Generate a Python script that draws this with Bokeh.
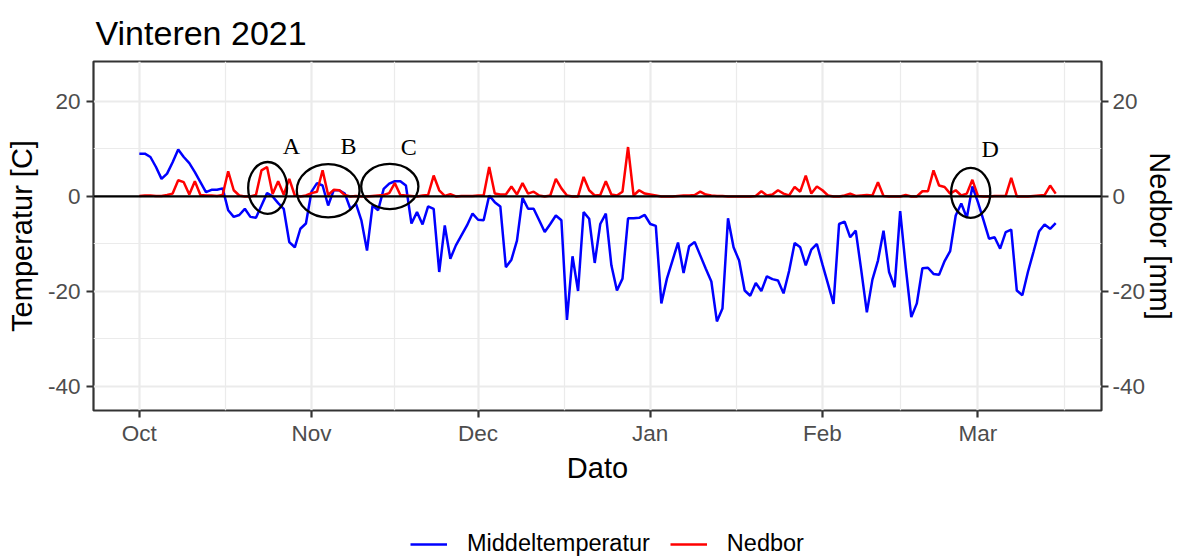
import pandas as pd
from bokeh.plotting import figure
from bokeh.layouts import column
from bokeh.models import (FixedTicker, DatetimeTickFormatter, LinearAxis, Span,
                          Legend, LegendItem, Range1d, PrintfTickFormatter)
from bokeh.core.properties import value
from bokeh.embed import file_html
from bokeh.resources import INLINE

# ---------------- data ----------------
start_date = "2020-10-01"
temp = [9.0, 9.0, 8.3, 6.2, 3.7, 4.8, 7.2, 9.9, 8.3, 7.0,
        5.1, 3.0, 0.9, 1.4, 1.4, 1.7, -2.9, -4.3, -3.9, -2.6,
        -4.3, -4.5, -1.9, 0.7, 0.0, -1.4, -2.6, -9.6, -10.7, -6.8,
        -5.7, 1.0, 2.8, 2.3, -1.9, 1.3, 1.3, 0.6, -2.6, -1.5,
        -5.1, -11.4, -1.9, -2.9, 1.6, 2.7, 3.2, 3.2, 2.3, -5.7,
        -3.3, -5.9, -2.1, -2.6, -15.9, -6.1, -13.1, -10.3, -8.2, -6.1,
        -3.6, -4.9, -5.0, 0.2, -1.2, -2.1, -14.9, -13.3, -9.3, -0.3,
        -2.6, -2.6, -5.0, -7.5, -5.8, -4.0, -5.0, -26.0, -12.6, -19.9,
        -3.3, -4.7, -14.0, -5.8, -3.6, -14.5, -19.8, -17.3, -4.6, -4.6,
        -4.5, -3.9, -5.8, -6.2, -22.5, -17.3, -13.5, -9.7, -16.1, -10.5,
        -9.6, -12.4, -15.2, -17.9, -26.3, -23.6, -4.6, -10.7, -13.5, -19.8,
        -20.9, -18.2, -19.9, -16.8, -17.4, -17.7, -20.4, -15.7, -9.8, -10.7,
        -14.5, -11.2, -10.0, -14.3, -18.4, -22.6, -5.8, -5.3, -8.6, -7.2,
        -15.6, -24.4, -17.5, -13.5, -7.2, -15.9, -19.1, -3.1, -14.9, -25.4,
        -22.5, -15.1, -15.0, -16.3, -16.5, -13.6, -11.5, -4.0, -1.5, -4.5,
        2.1, -1.2, -5.0, -8.9, -8.6, -11.0, -7.5, -7.0, -19.8, -20.8,
        -15.9, -11.7, -7.4, -5.9, -6.8, -5.6]
precip = [0.1, 0.2, 0.2, 0.1, 0.1, 0.3, 0.6, 3.4, 3.0, 0.4,
          3.2, 0.3, 0.2, 0.2, 0.1, 0.3, 5.3, 1.3, 0.2, 0.0,
          0.0, 0.3, 5.5, 6.2, 0.5, 3.2, 0.4, 3.7, 0.2, 0.0,
          0.2, 0.7, 1.0, 5.5, 0.3, 1.4, 1.3, 0.3, 0.0, 0.1,
          0.0, 0.0, 0.1, 0.2, 0.3, 0.7, 2.8, 0.3, 0.2, 0.1,
          0.0, 0.2, 0.3, 4.4, 1.3, 0.1, 0.5, 0.0, 0.1, 0.1,
          0.1, 0.2, 0.2, 6.2, 0.6, 0.4, 0.4, 2.1, 0.4, 2.8,
          0.6, 1.0, 0.2, 0.0, 0.2, 3.7, 1.7, 0.2, 0.0, 0.0,
          4.1, 1.3, 0.2, 0.3, 3.2, 0.4, 0.2, 1.0, 10.4, 0.2,
          1.3, 0.6, 0.4, 0.2, 0.0, 0.0, 0.0, 0.1, 0.2, 0.2,
          0.3, 1.0, 0.4, 0.2, 0.1, 0.1, 0.0, 0.0, 0.0, 0.0,
          0.0, 0.1, 1.1, 0.2, 0.4, 1.3, 0.6, 0.2, 2.0, 1.0,
          4.4, 0.6, 2.1, 1.3, 0.2, 0.0, 0.0, 0.2, 0.6, 0.1,
          0.2, 0.3, 0.2, 3.0, 0.1, 0.0, 0.0, 0.0, 0.3, 0.0,
          0.0, 1.1, 1.1, 5.5, 2.3, 2.0, 0.6, 1.3, 0.2, 0.6,
          3.5, 0.1, 0.0, 0.0, 0.1, 0.1, 0.1, 3.9, 0.0, 0.0,
          0.0, 0.1, 0.2, 0.3, 2.3, 0.6]

series_names = ["Middeltemperatur", "Nedbor"]
series_colors = ["#0000FF", "#FF0000"]

month_starts = ["2020-10-01", "2020-11-01", "2020-12-01", "2021-01-01",
                "2021-02-01", "2021-03-01", "2021-04-01"]
y_ticks = [-40, -20, 0, 20]
y_minor = [-30, -10, 10]

# annotation ellipses (day offset from start, y, width in days, height)
ell_day = [23.1, 34.0, 45.1, 149.7]
ell_y = [1.8, 1.2, 2.1, 0.75]
ell_w = [7.0, 11.3, 10.3, 7.05]
ell_h = [10.9, 11.2, 9.5, 10.5]
lab_text = ["A", "B", "C", "D"]
lab_day = [27.4, 37.65, 48.5, 153.2]
lab_y = [10.7, 10.6, 10.5, 10.0]

# ---------------- helpers ----------------
DAY = 86400000.0
t_start = pd.Timestamp(start_date)
dates = pd.date_range(t_start, periods=len(temp), freq="D")


def ms(ts):
    return pd.Timestamp(ts).value / 1e6


t0 = ms(t_start)
span_days = len(temp) - 1
pad = span_days * 0.05
x_range = Range1d(t0 - pad * DAY, t0 + (span_days + pad) * DAY)
y_range = Range1d(-45.05, 28.4)

major_x = [ms(d) for d in month_starts[:-1]]
all_m = [ms(d) for d in month_starts]
minor_x = [(a + b) / 2 for a, b in zip(all_m[:-1], all_m[1:])]

FONT = "Liberation Sans"
GRID = "#EBEBEB"
DARK = "#333333"
TICKC = "#4D4D4D"

p = figure(width=1180, height=497, x_axis_type="datetime",
           x_range=x_range, y_range=y_range,
           output_backend="svg", toolbar_location=None,
           min_border_left=93, min_border_right=79,
           min_border_top=61, min_border_bottom=87,
           background_fill_color="white", border_fill_color="white")
p.outline_line_color = DARK
p.outline_line_width = 2.2

# title
p.title.text = "Vinteren 2021"
p.title.text_font = FONT
p.title.text_font_size = "34px"
p.title.text_font_style = "normal"
p.title.text_color = "black"
p.title.align = "left"
p.title.offset = 2
p.title.standoff = 20

# x axis
xt = FixedTicker(ticks=major_x, minor_ticks=minor_x)
p.xaxis.ticker = xt
p.xaxis.formatter = DatetimeTickFormatter(
    milliseconds="%b", seconds="%b", minsec="%b", minutes="%b", hourmin="%b",
    hours="%b", days="%b", months="%b", years="%b")
p.xgrid.ticker = xt

yt = FixedTicker(ticks=y_ticks, minor_ticks=y_minor)
p.yaxis.ticker = yt
p.yaxis.formatter = PrintfTickFormatter(format="%d")
p.ygrid.ticker = yt

right = LinearAxis(ticker=yt, formatter=PrintfTickFormatter(format="%d"))
p.add_layout(right, "right")

for ax in [p.xaxis[0], p.yaxis[0], right]:
    ax.axis_line_color = None
    ax.major_tick_line_color = DARK
    ax.major_tick_line_width = 2.2
    ax.major_tick_out = 7
    ax.major_tick_in = 0
    ax.minor_tick_line_color = None
    ax.major_label_text_font = FONT
    ax.major_label_text_font_size = "22.5px"
    ax.major_label_text_color = TICKC
    ax.axis_label_text_font = FONT
    ax.axis_label_text_font_size = "29px"
    ax.axis_label_text_font_style = "normal"
    ax.axis_label_text_color = "black"

p.xaxis.axis_label = "Dato"
p.xaxis.major_label_standoff = 3
p.xaxis.axis_label_standoff = 3
p.yaxis[0].axis_label = "Temperatur [C]"
p.yaxis[0].major_label_standoff = 6
p.yaxis[0].axis_label_standoff = 7
right.axis_label = "Nedbor [mm]"
right.major_label_standoff = 4
right.axis_label_standoff = -4

for g in [p.xgrid[0], p.ygrid[0]]:
    g.grid_line_color = GRID
    g.grid_line_width = 2.2
    g.minor_grid_line_color = GRID
    g.minor_grid_line_width = 1.2

# data lines
rb = p.line(dates, temp, line_color=series_colors[0], line_width=2.5)
rr = p.line(dates, precip, line_color=series_colors[1], line_width=2.5)

p.add_layout(Span(location=0, dimension="width", line_color="black",
                  line_width=2.3))

# ellipses
ex = [t0 + d * DAY for d in ell_day]
ew = [w * DAY for w in ell_w]
p.ellipse(x=ex, y=ell_y, width=ew, height=ell_h, fill_color=None,
          line_color="black", line_width=2.3)

lx = [t0 + d * DAY for d in lab_day]
p.text(x=lx, y=lab_y, text=lab_text, text_font=value("Liberation Serif"),
       text_font_size="24px", text_align="center", text_baseline="alphabetic",
       text_color="black")

# ---------------- legend strip below ----------------
# the key renderers carry the real series, but lie outside this strip's range
q = figure(width=1180, height=60, output_backend="svg", toolbar_location=None,
           x_range=Range1d(0, 1), y_range=Range1d(0, 1),
           x_axis_location=None, y_axis_location=None,
           min_border_left=0, min_border_right=0,
           min_border_top=0, min_border_bottom=0,
           background_fill_color="white", border_fill_color="white")
q.outline_line_color = None
q.grid.visible = False
key_r = [q.line(x=dates, y=s, line_color=c, line_width=2.5)
         for s, c in zip([temp, precip], series_colors)]

legend = Legend(items=[LegendItem(label=n, renderers=[r])
                       for n, r in zip(series_names, key_r)],
                orientation="horizontal", location=(317, 0),
                padding=0, margin=0, spacing=20, glyph_width=37,
                label_standoff=20, border_line_color=None,
                background_fill_alpha=0,
                label_text_font=FONT, label_text_font_size="23.5px",
                label_text_color="black")
q.add_layout(legend)

layout = column(p, q, spacing=0)
open("out.html", "w").write(file_html(layout, INLINE))
